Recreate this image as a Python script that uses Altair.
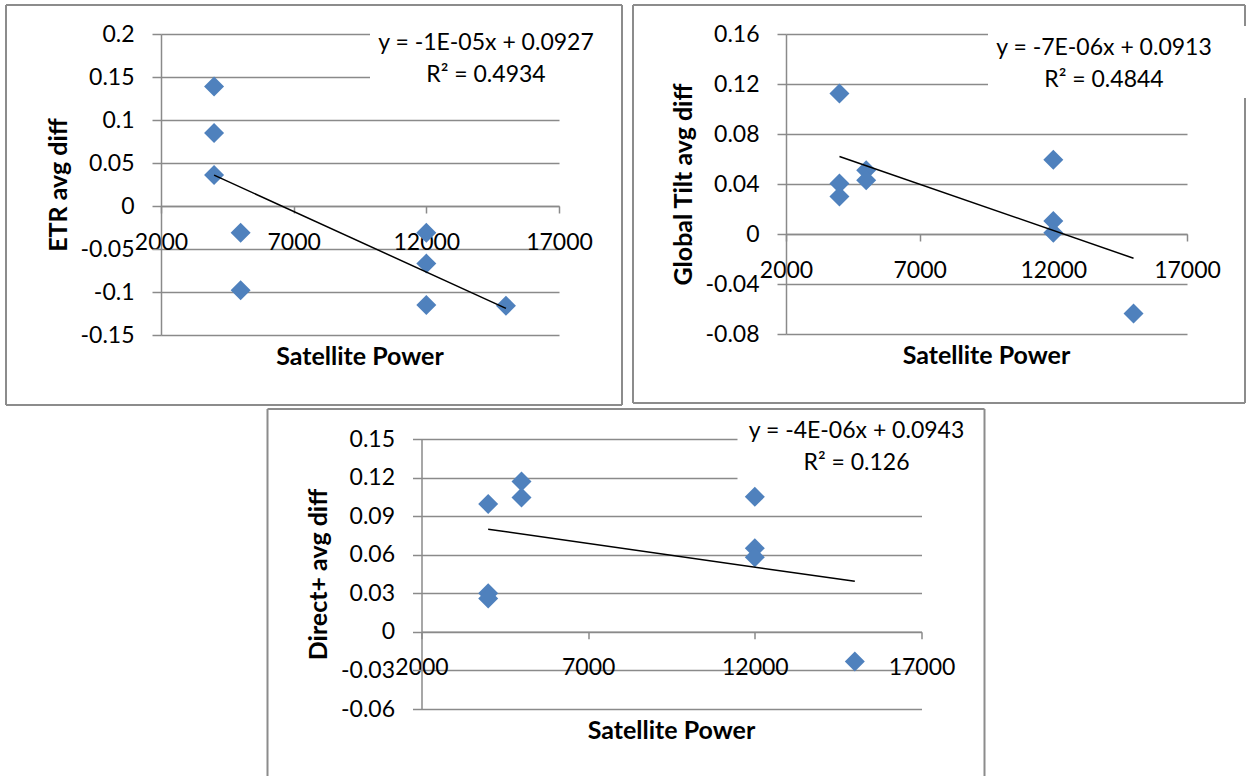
import altair as alt
import pandas as pd

# Satellite power of each run and the average difference of three irradiance components
power = [4000, 4000, 4000, 5000, 5000, 12000, 12000, 12000, 15000]
etr_diff = [0.139, 0.085, 0.036, -0.031, -0.098, -0.031, -0.067, -0.115, -0.116]
tilt_diff = [0.1125, 0.0405, 0.030, 0.051, 0.043, 0.0595, 0.0105, 0.001, -0.0635]
direct_diff = [0.0995, 0.030, 0.026, 0.117, 0.1045, 0.105, 0.065, 0.058, -0.023]

power_ticks = [2000, 7000, 12000, 17000]
etr_ticks = [-0.15, -0.1, -0.05, 0, 0.05, 0.1, 0.15, 0.2]
tilt_ticks = [-0.08, -0.04, 0, 0.04, 0.08, 0.12, 0.16]
direct_ticks = [-0.06, -0.03, 0, 0.03, 0.06, 0.09, 0.12, 0.15]

etr_fit = ["y = -1E-05x + 0.0927", "R² = 0.4934"]
tilt_fit = ["y = -7E-06x + 0.0913", "R² = 0.4844"]
direct_fit = ["y = -4E-06x + 0.0943", "R² = 0.126"]

x_title = "Satellite Power"

FONT = "Lato"
LABEL_SIZE = 23
TITLE_SIZE = 25
GRID = "#8a8a8a"
FRAME = "#8c8c8c"
BLUE = "#4f81bd"

one = pd.DataFrame({"k": [0]})


def frame_edges(x0, x1, y0, y1, closed):
    edges = [
        alt.Chart(one).mark_rule(color=FRAME, strokeWidth=2).encode(
            x=alt.value(x0), x2=alt.value(x1), y=alt.value(y0)),
        alt.Chart(one).mark_rule(color=FRAME, strokeWidth=2).encode(
            x=alt.value(x0), y=alt.value(y0), y2=alt.value(y1)),
        alt.Chart(one).mark_rule(color=FRAME, strokeWidth=2).encode(
            x=alt.value(x1), y=alt.value(y0), y2=alt.value(y1)),
    ]
    if closed:
        edges.append(alt.Chart(one).mark_rule(color=FRAME, strokeWidth=2).encode(
            x=alt.value(x0), x2=alt.value(x1), y=alt.value(y1)))
    return edges


def panel(yvals, yticks, ytitle, fit, w, h, frame, box, fit_xy, closed=True):
    df = pd.DataFrame({"power": power, "diff": yvals})
    ymin, ymax = yticks[0], yticks[-1]
    zero_up = h * (0 - ymin) / (ymax - ymin)

    xscale = alt.Scale(domain=[power_ticks[0], power_ticks[-1]], nice=False, zero=False)
    yscale = alt.Scale(domain=[ymin, ymax], nice=False, zero=False)

    xaxis = alt.Axis(
        values=power_ticks, labelExpr="'' + datum.value", title=None, grid=False,
        offset=-zero_up, domainColor=GRID, domainWidth=1.5, tickColor=GRID,
        tickWidth=1.5, tickSize=7, labelPadding=18, labelFont=FONT,
        labelFontSize=LABEL_SIZE, labelColor="black", labelFlush=False,
        labelOverlap=False,
    )
    yaxis = alt.Axis(
        values=yticks, labelExpr="'' + datum.value", grid=True, gridColor=GRID,
        gridWidth=1.5, domainColor=GRID, domainWidth=1.5, tickColor=GRID,
        tickWidth=1.5, tickSize=9, labelPadding=18, labelFont=FONT,
        labelFontSize=LABEL_SIZE, labelColor="black", labelOverlap=False,
        title=ytitle, titleFont=FONT, titleFontSize=TITLE_SIZE,
        titleFontWeight="bold", titleColor="black", titleAngle=270,
        titleX=-103, titleY=h / 2, titleAlign="center", titleBaseline="middle",
    )

    enc = dict(
        x=alt.X("power:Q", scale=xscale, axis=xaxis),
        y=alt.Y("diff:Q", scale=yscale, axis=yaxis),
    )

    points = alt.Chart(df).mark_point(
        shape="diamond", filled=True, size=400, color=BLUE, opacity=1
    ).encode(**enc)

    trend = alt.Chart(df).transform_regression("power", "diff").mark_line(
        color="black", strokeWidth=1.5
    ).encode(**enc)

    fl, fr, ft, fb = frame
    edges = frame_edges(-fl, w + fr, -ft, h + fb, closed)

    # white backing of the trendline equation, hiding the gridlines behind it
    bx0, bx1, by0, by1 = box
    label_box = alt.Chart(one).mark_rect(color="white").encode(
        x=alt.value(bx0), x2=alt.value(bx1), y=alt.value(by0), y2=alt.value(by1)
    )

    fx, fy1, fy2 = fit_xy
    fit_text = [
        alt.Chart(one).mark_text(font=FONT, fontSize=LABEL_SIZE, color="black",
                                 align="center", baseline="middle").encode(
            x=alt.value(fx), y=alt.value(fy), text=alt.value(t))
        for t, fy in zip(fit, [fy1, fy2])
    ]

    xtitle = alt.Chart(one).mark_text(
        font=FONT, fontSize=TITLE_SIZE, fontWeight="bold", color="black",
        align="center", baseline="middle"
    ).encode(x=alt.value(w / 2), y=alt.value(h + 22), text=alt.value(x_title))

    return alt.layer(points, trend, *edges, label_box, *fit_text, xtitle).properties(
        width=w, height=h
    )


etr = panel(etr_diff, etr_ticks, "ETR avg diff", etr_fit, 398, 301,
            (155, 63, 29, 70), (209, 460, -9, 60), (325, 9, 41))
tilt = panel(tilt_diff, tilt_ticks, "Global Tilt avg diff", tilt_fit, 401, 300,
             (153, 58, 29, 69), (202, 460, -8, 64), (318, 14, 46))
direct = panel(direct_diff, direct_ticks, "Direct+ avg diff", direct_fit, 500, 270,
               (154, 63, 30, 67), (316, 560, -24, 45), (435, -8, 24), closed=False)

chart = alt.vconcat(
    alt.hconcat(etr, tilt, spacing=9),
    direct,
    spacing=2,
    center=True,
).properties(
    padding={"left": 5, "top": 4, "right": 0, "bottom": 0},
    background="white",
).configure_view(stroke=None)

chart.save("out.html", embed_options={"renderer": "svg", "actions": False})
